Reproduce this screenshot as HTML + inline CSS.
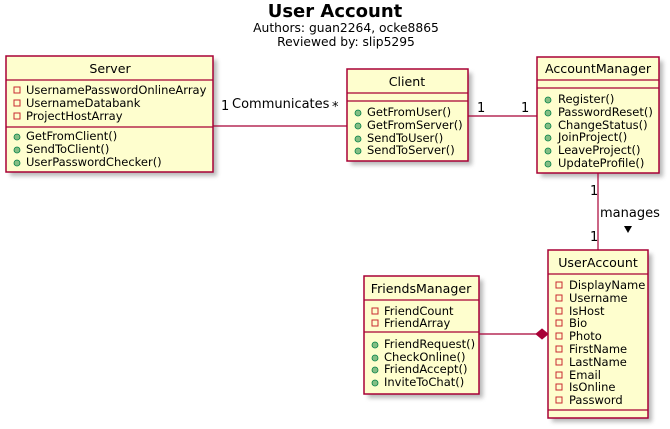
<!DOCTYPE html>
<html><head><meta charset="utf-8"><style>
html,body{margin:0;padding:0;background:#fff;width:670px;height:429px;overflow:hidden}
text{font-family:"DejaVu Sans","Liberation Sans",sans-serif;fill:#000}
</style></head><body>
<svg width="670" height="429" viewBox="0 0 670 429" xmlns="http://www.w3.org/2000/svg">
<defs><filter id="sh" x="-10%" y="-10%" width="130%" height="130%"><feGaussianBlur stdDeviation="2"/></filter></defs>
<text x="335" y="17" font-size="18" font-weight="bold" text-anchor="middle">User Account</text>
<text x="346" y="32" font-size="12.3" text-anchor="middle">Authors: guan2264, ocke8865</text>
<text x="346" y="46" font-size="12.3" text-anchor="middle">Reviewed by: slip5295</text>

<g fill="#888" opacity="0.6" filter="url(#sh)">
<rect x="10" y="60" width="207" height="116"/>
<rect x="351" y="73" width="121" height="92"/>
<rect x="541" y="61" width="122" height="116"/>
<rect x="552" y="254" width="100" height="168"/>
<rect x="368" y="280" width="115" height="118"/>
</g>

<g stroke="#a80036" stroke-width="1.5" fill="#fefece">
<rect x="6" y="56" width="207" height="116"/>
<rect x="347" y="69" width="121" height="92"/>
<rect x="537" y="57" width="122" height="116"/>
<rect x="548" y="250" width="100" height="168"/>
<rect x="364" y="276" width="115" height="118"/>
</g>
<g stroke="#a80036" stroke-width="1.2">
<line x1="6" y1="80" x2="213" y2="80"/><line x1="6" y1="127" x2="213" y2="127"/>
<line x1="347" y1="93" x2="468" y2="93"/><line x1="347" y1="101" x2="468" y2="101"/>
<line x1="537" y1="80" x2="659" y2="80"/><line x1="537" y1="88" x2="659" y2="88"/>
<line x1="548" y1="274" x2="648" y2="274"/><line x1="548" y1="410" x2="648" y2="410"/>
<line x1="364" y1="300" x2="479" y2="300"/><line x1="364" y1="332" x2="479" y2="332"/>
<line x1="213" y1="126" x2="347" y2="126"/>
<line x1="468" y1="116" x2="537" y2="116"/>
<line x1="598" y1="173" x2="598" y2="250"/>
<line x1="479" y1="334" x2="536" y2="334"/>
</g>
<polygon points="536,334 542,329 548,334 542,339" fill="#a80036" stroke="#a80036"/>

<g font-size="12.6" text-anchor="middle">
<text x="110" y="73">Server</text>
<text x="407" y="86">Client</text>
<text x="598" y="73">AccountManager</text>
<text x="598" y="267">UserAccount</text>
<text x="421" y="293">FriendsManager</text>
</g>

<g font-size="11.5">
<text x="26" y="94">UsernamePasswordOnlineArray</text>
<text x="26" y="107">UsernameDatabank</text>
<text x="26" y="120">ProjectHostArray</text>
<text x="26" y="140">GetFromClient()</text>
<text x="26" y="153">SendToClient()</text>
<text x="26" y="166">UserPasswordChecker()</text>

<text x="367" y="116">GetFromUser()</text>
<text x="367" y="129">GetFromServer()</text>
<text x="367" y="142">SendToUser()</text>
<text x="367" y="154">SendToServer()</text>

<text x="558" y="103">Register()</text>
<text x="558" y="116">PasswordReset()</text>
<text x="558" y="129">ChangeStatus()</text>
<text x="558" y="141">JoinProject()</text>
<text x="558" y="154">LeaveProject()</text>
<text x="558" y="167">UpdateProfile()</text>

<text x="569" y="289">DisplayName</text>
<text x="569" y="302">Username</text>
<text x="569" y="315">IsHost</text>
<text x="569" y="327">Bio</text>
<text x="569" y="340">Photo</text>
<text x="569" y="353">FirstName</text>
<text x="569" y="366">LastName</text>
<text x="569" y="379">Email</text>
<text x="569" y="391">IsOnline</text>
<text x="569" y="404">Password</text>

<text x="384" y="315">FriendCount</text>
<text x="384" y="327">FriendArray</text>
<text x="384" y="348">FriendRequest()</text>
<text x="384" y="361">CheckOnline()</text>
<text x="384" y="373">FriendAccept()</text>
<text x="384" y="386">InviteToChat()</text>
</g>

<g fill="none" stroke="#c82930" stroke-width="1">
<rect x="14" y="87" width="6" height="6"/><rect x="14" y="100" width="6" height="6"/><rect x="14" y="113" width="6" height="6"/>
<rect x="556" y="282" width="6" height="6"/><rect x="556" y="295" width="6" height="6"/><rect x="556" y="308" width="6" height="6"/>
<rect x="556" y="320" width="6" height="6"/><rect x="556" y="333" width="6" height="6"/><rect x="556" y="346" width="6" height="6"/>
<rect x="556" y="359" width="6" height="6"/><rect x="556" y="372" width="6" height="6"/><rect x="556" y="384" width="6" height="6"/>
<rect x="556" y="397" width="6" height="6"/>
<rect x="372" y="308" width="6" height="6"/><rect x="372" y="320" width="6" height="6"/>
</g>
<g fill="#84be84" stroke="#038048" stroke-width="0.8">
<circle cx="17" cy="137" r="3"/><circle cx="17" cy="150" r="3"/><circle cx="17" cy="163" r="3"/>
<circle cx="358" cy="113" r="3"/><circle cx="358" cy="126" r="3"/><circle cx="358" cy="139" r="3"/><circle cx="358" cy="151" r="3"/>
<circle cx="548" cy="100" r="3"/><circle cx="548" cy="113" r="3"/><circle cx="548" cy="126" r="3"/>
<circle cx="548" cy="138" r="3"/><circle cx="548" cy="151" r="3"/><circle cx="548" cy="164" r="3"/>
<circle cx="375" cy="345" r="3"/><circle cx="375" cy="358" r="3"/><circle cx="375" cy="370" r="3"/><circle cx="375" cy="383" r="3"/>
</g>

<g font-size="13">
<text x="221" y="110">1</text>
<text x="232" y="108">Communicates</text>
<text x="332" y="111">*</text>
<text x="477" y="112">1</text>
<text x="521" y="112">1</text>
<text x="590" y="195">1</text>
<text x="600" y="217">manages</text>
<text x="590" y="241">1</text>
</g>
<polygon points="624,226 632,226 628,233" fill="#000"/>
</svg>
</body></html>
